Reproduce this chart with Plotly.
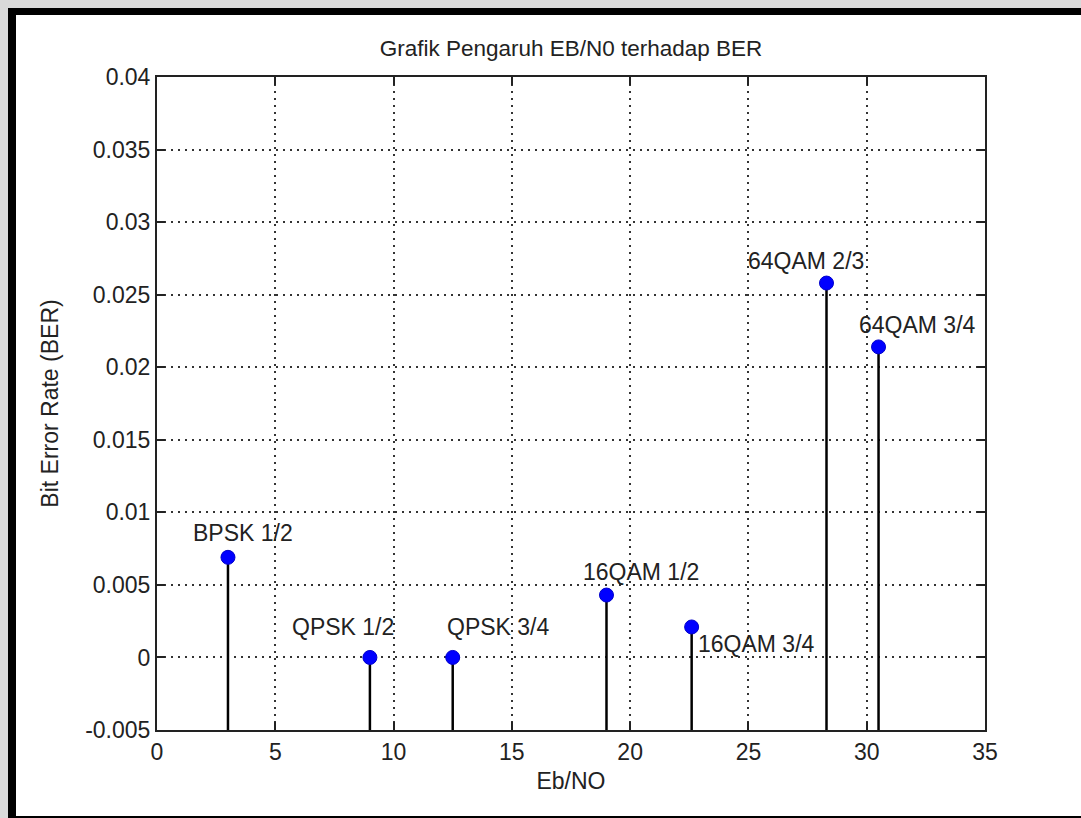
import plotly.graph_objects as go

# ---- data ----
modulations = ["BPSK 1/2", "QPSK 1/2", "QPSK 3/4", "16QAM 1/2", "16QAM 3/4", "64QAM 2/3", "64QAM 3/4"]
ebno = [3.0, 9.0, 12.5, 19.0, 22.6, 28.3, 30.5]
ber = [0.0069, 0.0, 0.0, 0.0043, 0.0021, 0.0258, 0.0214]
# text label anchor positions (data coordinates, left edge / vertical middle)
label_x = [1.45, 5.62, 12.18, 17.93, 22.78, 24.9, 29.58]
label_y = [0.0086, 0.0021, 0.0021, 0.0059, 0.0009, 0.0273, 0.0229]
stem_base = -0.005

x_ticks = [0, 5, 10, 15, 20, 25, 30, 35]
y_ticks = [-0.005, 0, 0.005, 0.01, 0.015, 0.02, 0.025, 0.03, 0.035, 0.04]
y_ticktext = ["-0.005", "0", "0.005", "0.01", "0.015", "0.02", "0.025", "0.03", "0.035", "0.04"]

FONT = "Liberation Sans, Arial, sans-serif"
TXT = "#222222"
W, H = 1081, 818
L, R, T, B = 157, 985, 77, 730

fig = go.Figure()

# stems
sx, sy = [], []
for xv, yv in zip(ebno, ber):
    sx += [xv, xv, None]
    sy += [stem_base, yv, None]
fig.add_trace(go.Scatter(x=sx, y=sy, mode="lines",
                         line=dict(color="black", width=2.5),
                         hoverinfo="skip", showlegend=False))
# markers
fig.add_trace(go.Scatter(x=ebno, y=ber, mode="markers", text=modulations,
                         marker=dict(color="#0000ff", size=14,
                                     line=dict(color="#0000cc", width=1)),
                         showlegend=False))

for name, lx, ly in zip(modulations, label_x, label_y):
    fig.add_annotation(x=lx, y=ly, text=name, showarrow=False,
                       xanchor="left", yanchor="middle",
                       font=dict(family=FONT, size=23, color=TXT))

axis_common = dict(
    showline=True, linecolor="#222", linewidth=2, mirror="ticks",
    ticks="inside", ticklen=8, tickwidth=1.5, tickcolor="#222",
    showgrid=True, gridcolor="#333", gridwidth=1.5, griddash="2px,5px",
    zeroline=False,
    tickfont=dict(family=FONT, size=23, color=TXT),
)

fig.update_xaxes(range=[0, 35], tickvals=x_ticks,
                 title=dict(text="Eb/NO", font=dict(family=FONT, size=23, color=TXT), standoff=9),
                 **axis_common)
fig.update_yaxes(range=[-0.005, 0.04], tickvals=y_ticks, ticktext=y_ticktext,
                 title=dict(text="Bit Error Rate (BER)", font=dict(family=FONT, size=23, color=TXT), standoff=20),
                 **axis_common)

def px(xp):
    return (xp - L) / (R - L)

def py(yp):
    return (B - yp) / (B - T)

shapes = [
    # light gray outer strips
    dict(type="rect", xref="paper", yref="paper", x0=px(0), x1=px(W), y0=py(0), y1=py(8),
         fillcolor="#d9d9d9", line=dict(width=0), layer="below"),
    dict(type="rect", xref="paper", yref="paper", x0=px(0), x1=px(8), y0=py(0), y1=py(H),
         fillcolor="#d9d9d9", line=dict(width=0), layer="below"),
    # black frame
    dict(type="rect", xref="paper", yref="paper", x0=px(8), x1=px(W), y0=py(8), y1=py(15),
         fillcolor="black", line=dict(width=0), layer="below"),
    dict(type="rect", xref="paper", yref="paper", x0=px(8), x1=px(16), y0=py(8), y1=py(H),
         fillcolor="black", line=dict(width=0), layer="below"),
    dict(type="rect", xref="paper", yref="paper", x0=px(8), x1=px(W), y0=py(816), y1=py(H),
         fillcolor="black", line=dict(width=0), layer="below"),
]

fig.update_layout(
    width=W, height=H,
    margin=dict(l=L, r=W - R, t=T, b=H - B),
    paper_bgcolor="white", plot_bgcolor="white",
    title=dict(text="Grafik Pengaruh EB/N0 terhadap BER", x=(L + R) / 2 / W, xanchor="center",
               y=1 - 48 / H, yanchor="middle",
               font=dict(family=FONT, size=22.5, color=TXT)),
    shapes=shapes,
    showlegend=False,
)

fig.write_html("out.html")
